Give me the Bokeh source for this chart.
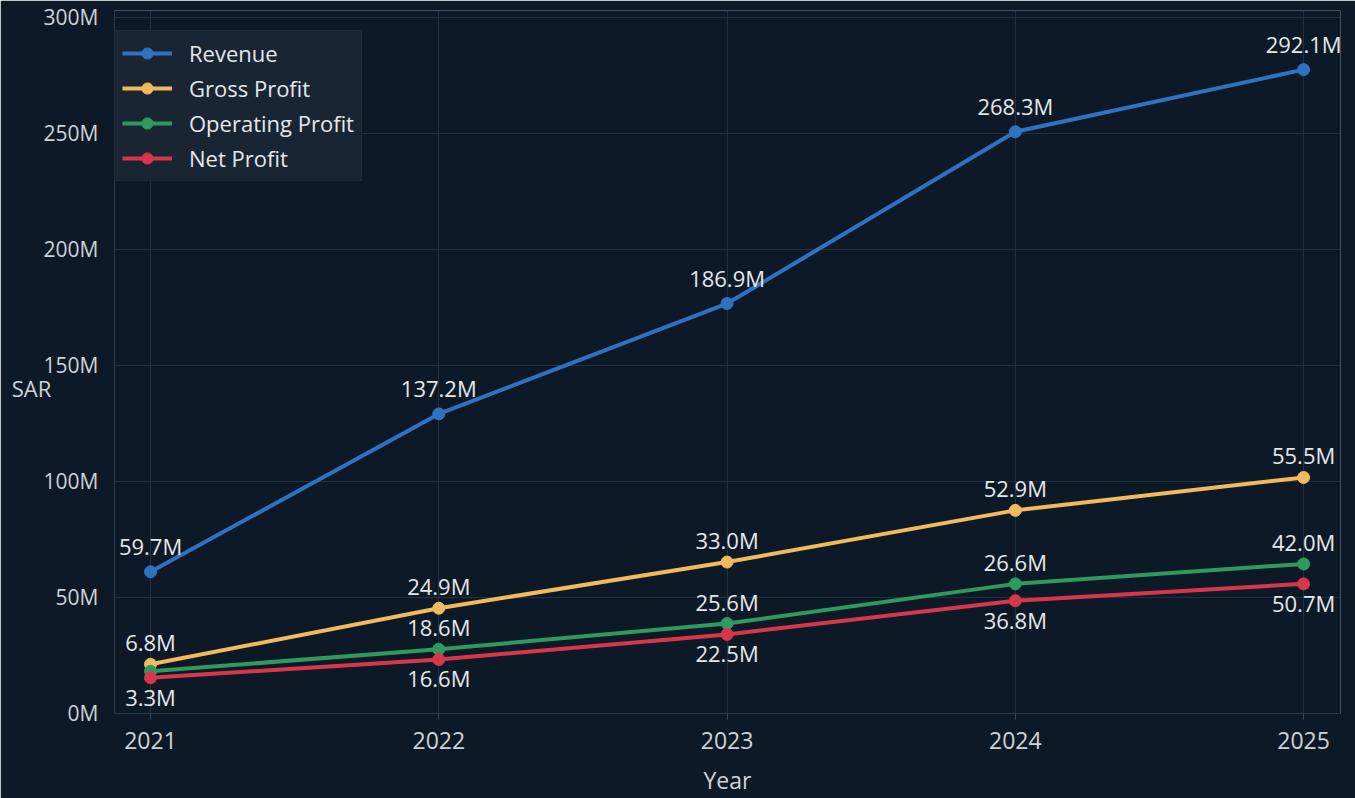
from bokeh.plotting import figure
from bokeh.models import (ColumnDataSource, LabelSet, Label, FixedTicker,
                          PrintfTickFormatter, Range1d, Legend)
from bokeh.core.properties import value
from bokeh.embed import file_html
from bokeh.resources import INLINE

# ---- data (values in millions SAR) ----
years = [2021, 2022, 2023, 2024, 2025]
revenue = [60.9, 129.0, 176.6, 250.7, 277.5]
gross_profit = [21.0, 45.2, 65.1, 87.4, 101.6]
operating_profit = [18.0, 27.5, 38.6, 55.7, 64.3]
net_profit = [15.2, 23.1, 33.9, 48.4, 55.7]

revenue_labels = ["59.7M", "137.2M", "186.9M", "268.3M", "292.1M"]
gross_labels = ["6.8M", "24.9M", "33.0M", "52.9M", "55.5M"]
operating_labels = ["", "18.6M", "25.6M", "26.6M", "42.0M"]
net_labels = ["3.3M", "16.6M", "22.5M", "36.8M", "50.7M"]

y_ticks = [0, 50, 100, 150, 200, 250, 300]

FONT = "Open Sans"
BG = "#0d1926"
TXT = "#e4e8ec"
AX_TXT = "#cdd3d9"

# name, values, label texts, colour, label placement offset (px, + above / - below)
series = [
    ("Revenue", revenue, revenue_labels, "#2f72c2", 17),
    ("Gross Profit", gross_profit, gross_labels, "#f2ba5c", 13),
    ("Operating Profit", operating_profit, operating_labels, "#2e9a5e", 13),
    ("Net Profit", net_profit, net_labels, "#d8374b", -4),
]

p = figure(width=1355, height=798, output_backend="svg", toolbar_location=None,
           min_border_left=84, min_border_right=15, min_border_top=10, min_border_bottom=81,
           x_range=Range1d(2020.875, 2025.128), y_range=Range1d(-0.21, 303))

p.background_fill_color = BG
p.border_fill_color = BG
p.outline_line_color = None

legend_items = []
for name, vals, labels, color, off in series:
    src = ColumnDataSource(dict(x=years, y=vals, t=labels))
    r1 = p.line("x", "y", source=src, line_color=color, line_width=4)
    r2 = p.scatter("x", "y", source=src, size=12, fill_color=color, line_color=color)
    legend_items.append((name, [r1, r2]))
    ls = LabelSet(x="x", y="y", text="t", source=src, y_offset=off,
                  text_align="center",
                  text_baseline="alphabetic" if off > 0 else "top",
                  text_color=TXT, text_font=value(FONT), text_font_size="22px")
    p.add_layout(ls)

legend = Legend(items=legend_items, location=(0, 532))
legend.margin = 0
legend.padding = 7
legend.spacing = 5
legend.label_standoff = 17
legend.label_text_font = FONT
legend.label_text_font_size = "22px"
legend.label_text_color = TXT
legend.background_fill_color = "#1a2634"
legend.background_fill_alpha = 0.95
legend.border_line_color = "#243242"
legend.glyph_width = 50
legend.glyph_height = 28
legend.label_height = 28
p.add_layout(legend)

# axes
p.xaxis.ticker = FixedTicker(ticks=years)
p.yaxis.ticker = FixedTicker(ticks=y_ticks)
p.yaxis.formatter = PrintfTickFormatter(format="%dM")
for ax in (p.xaxis, p.yaxis):
    ax.major_label_text_font = FONT
    ax.major_label_text_color = AX_TXT
    ax.axis_line_color = "#2a3a49"
    ax.major_tick_line_color = "#3a4a59"
    ax.minor_tick_line_color = None
    ax.major_tick_out = 6
    ax.major_tick_in = 0
    ax.axis_label_text_font = FONT
    ax.axis_label_text_font_style = "normal"
    ax.axis_label_text_color = AX_TXT
    ax.axis_label_text_font_size = "23px"
p.xaxis.major_label_text_font_size = "23px"
p.yaxis.major_label_text_font_size = "21px"
p.yaxis.major_tick_line_color = None
p.xaxis.axis_label = "Year"
p.xaxis.major_label_standoff = 12
p.xaxis.axis_label_standoff = 12
p.yaxis.major_label_standoff = 10

p.grid.grid_line_color = "#223140"
p.grid.grid_line_width = 1

# y-axis unit caption, placed in the left side panel
sar = Label(x=31, y=326, x_units="screen", y_units="screen", text="SAR",
            text_align="center", text_baseline="middle", text_color=AX_TXT,
            text_font=FONT, text_font_size="22px")
p.add_layout(sar, "left")

html = file_html(p, INLINE)
html = html.replace("<body>", '<body style="background:%s">' % BG, 1)
open("out.html", "w").write(html)
